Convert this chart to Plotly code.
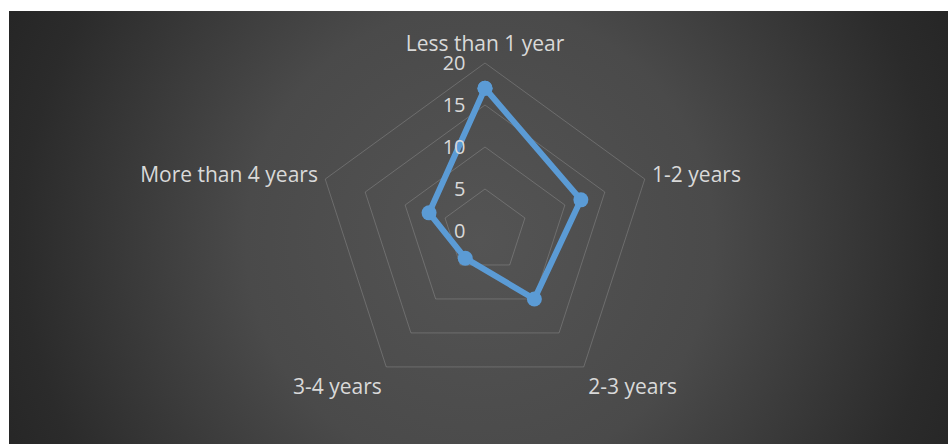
import base64
import plotly.graph_objects as go

categories = ["Less than 1 year", "1-2 years", "2-3 years", "3-4 years", "More than 4 years"]
values = [17, 12, 10, 4, 7]
radial_ticks = [0, 5, 10, 15, 20]

W, H = 948, 444
# plot area (square) geometry
L, R, T, B = 317, 295, 63, 45
pw = W - L - R
ph = H - T - B

# background radial gradient as inline SVG
bx0, by0 = 9, 11
bw, bh = W - bx0, H - by0
cx, cy = 480 - bx0, 240 - by0
svg = f'''<svg xmlns="http://www.w3.org/2000/svg" width="{bw}" height="{bh}" viewBox="0 0 {bw} {bh}" preserveAspectRatio="none">
<defs><radialGradient id="g" gradientUnits="userSpaceOnUse" cx="{cx}" cy="{cy}" r="520">
<stop offset="0" stop-color="#545454"/>
<stop offset="0.45" stop-color="#4a4a4a"/>
<stop offset="0.88" stop-color="#2b2b2b"/>
<stop offset="1" stop-color="#262626"/>
</radialGradient></defs>
<rect x="0" y="0" width="{bw}" height="{bh}" fill="url(#g)"/>
</svg>'''
src = "data:image/svg+xml;base64," + base64.b64encode(svg.encode()).decode()

fig = go.Figure()
fig.add_trace(go.Scatterpolar(
    r=values + [values[0]],
    theta=categories + [categories[0]],
    mode="lines+markers",
    line=dict(color="#5b9bd5", width=6),
    marker=dict(color="#5b9bd5", size=15),
    showlegend=False,
    hoverinfo="r+theta",
))

grid = "rgba(217,217,217,0.22)"
txt = "#d9d9d9"
fnt = "Open Sans, sans-serif"

fig.update_layout(
    width=W, height=H,
    margin=dict(l=L, r=R, t=T, b=B, pad=0),
    paper_bgcolor="white",
    plot_bgcolor="rgba(0,0,0,0)",
    images=[dict(
        source=src, xref="paper", yref="paper",
        x=(bx0 - L) / pw, y=(H - B - by0) / ph,
        sizex=bw / pw, sizey=bh / ph,
        xanchor="left", yanchor="top", sizing="stretch", layer="below",
    )],
    polar=dict(
        bgcolor="rgba(0,0,0,0)",
        gridshape="linear",
        domain=dict(x=[0, 1], y=[0, 1]),
        angularaxis=dict(
            direction="clockwise", rotation=90,
            showgrid=False, showline=True, linecolor=grid, linewidth=1,
            ticks="outside", ticklen=3, tickcolor="rgba(0,0,0,0)",
            tickfont=dict(family=fnt, size=21, color=txt),
        ),
        radialaxis=dict(
            range=[0, 20], tickvals=radial_ticks, ticktext=[str(v) for v in radial_ticks],
            angle=90, side="counterclockwise",
            showline=False, showgrid=True, gridcolor=grid, gridwidth=1,
            ticks="outside", ticklen=12, tickcolor="rgba(0,0,0,0)",
            tickfont=dict(family=fnt, size=20, color=txt),
            tickangle=90,
        ),
    ),
)

fig.write_html("out.html")
